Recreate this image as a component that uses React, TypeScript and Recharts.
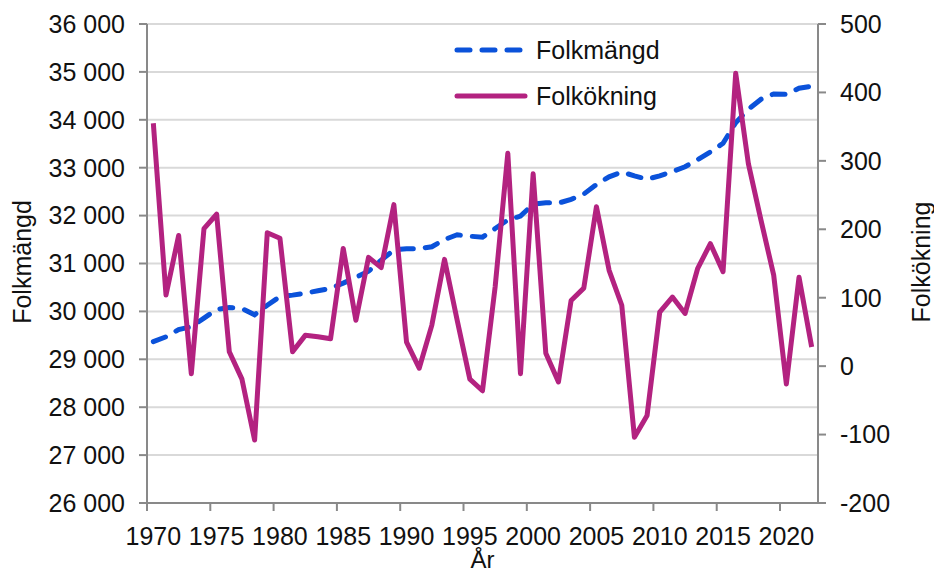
import React from 'react';
import { LineChart, Line, XAxis, YAxis, CartesianGrid, Legend } from 'recharts';

const years = [
  1970, 1971, 1972, 1973, 1974, 1975, 1976, 1977, 1978, 1979,
  1980, 1981, 1982, 1983, 1984, 1985, 1986, 1987, 1988, 1989,
  1990, 1991, 1992, 1993, 1994, 1995, 1996, 1997, 1998, 1999,
  2000, 2001, 2002, 2003, 2004, 2005, 2006, 2007, 2008, 2009,
  2010, 2011, 2012, 2013, 2014, 2015, 2016, 2017, 2018, 2019,
  2020, 2021, 2022,
];

const folkmangd = [
  29370, 29470, 29620, 29680, 29860, 30040, 30080, 30060, 29930, 30130,
  30310, 30340, 30380, 30430, 30480, 30590, 30710, 30840, 31070, 31280,
  31310, 31310, 31350, 31500, 31600, 31570, 31550, 31730, 31910, 31990,
  32240, 32270, 32260, 32340, 32450, 32650, 32810, 32910, 32830, 32760,
  32830, 32920, 33020, 33170, 33330, 33510, 33940, 34220, 34430, 34540,
  34530, 34660, 34700,
];

const folkokning = [
  355, 104, 191, -11, 201, 222, 21, -19, -108, 195,
  187, 21, 45, 43, 40, 172, 67, 159, 144, 236,
  35, -3, 60, 156, 67, -19, -36, 116, 311, -11,
  281, 19, -23, 96, 114, 233, 140, 89, -104, -72,
  79, 101, 77, 143, 179, 138, 428, 296, 213, 133,
  -26, 130, 28,
];

const leftTicks = [26000, 27000, 28000, 29000, 30000, 31000, 32000, 33000, 34000, 35000, 36000];
const rightTicks = [-200, -100, 0, 100, 200, 300, 400, 500];

const data = years.map((year, i) => ({
  year,
  folkmangd: folkmangd[i],
  folkokning: folkokning[i],
}));

const W = 934;
const H = 574;
const PLOT_LEFT = 147;
const PLOT_RIGHT = 818;
const PLOT_TOP = 24;
const PLOT_BOTTOM = 503;
const HALF_BAND = (PLOT_RIGHT - PLOT_LEFT) / years.length / 2;

const FONT = '"Liberation Sans", Arial, sans-serif';
const FS = 25;
const AXIS = '#898989';
const BLUE = '#0b52da';
const MAGENTA = '#b32280';

const fmt = (v: number) => String(v).replace(/\B(?=(\d{3})+(?!\d))/g, ' ');

const XTick = (props: any) => {
  const { x, payload } = props;
  return (
    <g>
      <line x1={x - HALF_BAND} x2={x - HALF_BAND} y1={PLOT_BOTTOM} y2={PLOT_BOTTOM + 8} stroke={AXIS} strokeWidth={2} />
      <text x={x} y={536} textAnchor="middle" dominantBaseline="central" fontFamily={FONT} fontSize={FS} fill="#111">
        {payload.value}
      </text>
    </g>
  );
};

// axis titles sit at fixed spots, like the Excel original
const AxisTitle = ({ text, tx, ty, rotate, size = FS }: { text: string; tx: number; ty: number; rotate?: boolean; size?: number }) => (
  <text
    x={tx}
    y={ty}
    transform={rotate ? `rotate(-90, ${tx}, ${ty})` : undefined}
    textAnchor="middle"
    dominantBaseline="central"
    fontFamily={FONT}
    fontSize={size}
    fill="#111"
  >
    {text}
  </text>
);

const LegendBox = (props: any) => {
  const { payload } = props;
  return (
    <svg width={220} height={80} style={{ display: 'block' }}>
      {(payload || []).map((p: any, i: number) => (
        <g key={p.value} transform={`translate(0, ${i * 46})`}>
          <line
            x1={5}
            x2={73}
            y1={20}
            y2={20}
            stroke={p.color}
            strokeWidth={5}
            strokeLinecap="round"
            strokeDasharray={p.payload?.strokeDasharray}
          />
          <text x={84} y={20} dominantBaseline="central" fontFamily={FONT} fontSize={FS} fill="#111">
            {p.value}
          </text>
        </g>
      ))}
    </svg>
  );
};

export default function App() {
  return (
    <div style={{ position: 'absolute', left: 0, top: 0, width: W, height: H, background: '#fff' }}>
      <LineChart width={W} height={H} data={data} margin={{ top: PLOT_TOP, right: 0, bottom: 0, left: 0 }}>
        <CartesianGrid yAxisId="left" vertical={false} stroke="#d9d9d9" strokeWidth={2} />
        <XAxis
          dataKey="year"
          type="category"
          interval={4}
          height={H - PLOT_BOTTOM}
          padding={{ left: HALF_BAND, right: HALF_BAND }}
          axisLine={{ stroke: AXIS, strokeWidth: 2 }}
          tickLine={false}
          tick={<XTick />}
          label={<AxisTitle text="År" tx={(PLOT_LEFT + PLOT_RIGHT) / 2} ty={559} size={24} />}
        />
        <YAxis
          yAxisId="left"
          orientation="left"
          width={PLOT_LEFT}
          domain={[26000, 36000]}
          ticks={leftTicks}
          tickFormatter={fmt}
          tickSize={8}
          tickMargin={14}
          axisLine={{ stroke: AXIS, strokeWidth: 2 }}
          tickLine={{ stroke: AXIS, strokeWidth: 2 }}
          tick={{ fill: '#111', fontSize: FS, fontFamily: FONT }}
          label={<AxisTitle text="Folkmängd" tx={22} ty={262} rotate />}
        />
        <YAxis
          yAxisId="right"
          orientation="right"
          width={W - PLOT_RIGHT}
          domain={[-200, 500]}
          ticks={rightTicks}
          tickSize={8}
          tickMargin={14}
          axisLine={{ stroke: AXIS, strokeWidth: 2 }}
          tickLine={{ stroke: AXIS, strokeWidth: 2 }}
          tick={{ fill: '#111', fontSize: FS, fontFamily: FONT }}
          label={<AxisTitle text="Folkökning" tx={921} ty={262} rotate />}
        />
        <Legend
          layout="vertical"
          align="center"
          verticalAlign="middle"
          content={<LegendBox />}
          wrapperStyle={{ left: 452, top: 30, width: 220 }}
        />
        <Line
          yAxisId="left"
          type="linear"
          dataKey="folkmangd"
          name="Folkmängd"
          stroke={BLUE}
          strokeWidth={5}
          strokeDasharray="13 12"
          strokeLinecap="round"
          dot={false}
          activeDot={false}
          isAnimationActive={false}
        />
        <Line
          yAxisId="right"
          type="linear"
          dataKey="folkokning"
          name="Folkökning"
          stroke={MAGENTA}
          strokeWidth={5}
          strokeLinejoin="round"
          dot={false}
          activeDot={false}
          isAnimationActive={false}
        />
      </LineChart>
    </div>
  );
}
